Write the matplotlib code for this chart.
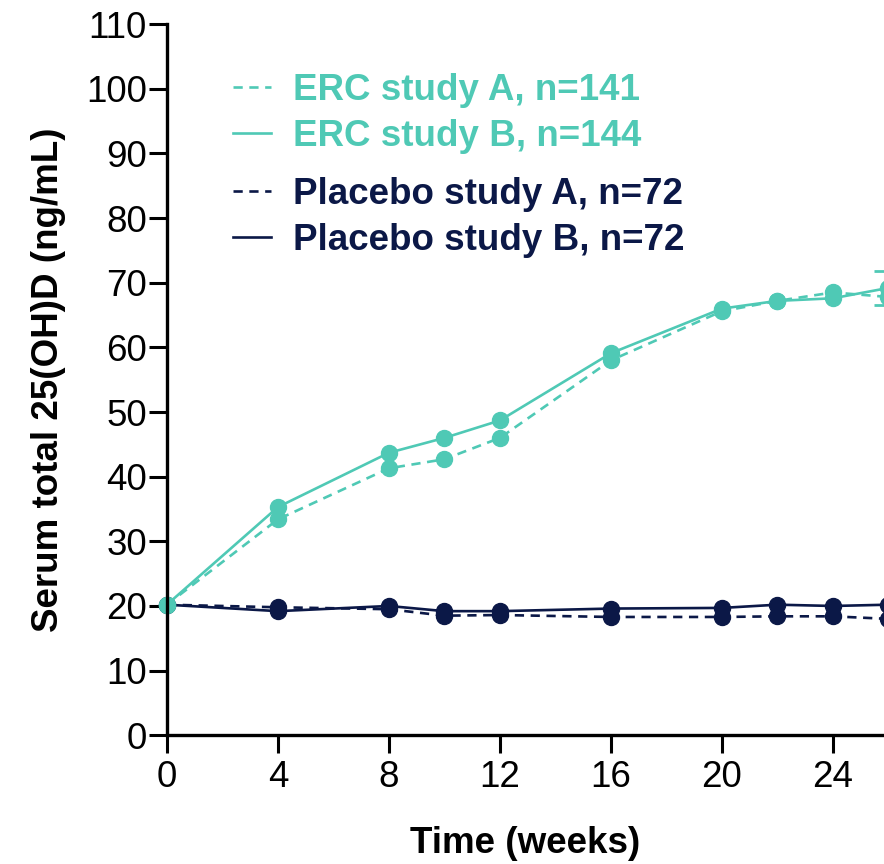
import matplotlib.pyplot as plt
from matplotlib.lines import Line2D

plt.rcParams['font.family'] = ['Liberation Sans', 'DejaVu Sans']

TEAL = '#4fc9b5'
NAVY = '#0b1847'

weeks = [0, 4, 8, 10, 12, 16, 20, 22, 24, 26]
erc_a = [20.2, 33.4, 41.3, 42.7, 46.0, 58.0, 65.6, 67.2, 68.5, 67.8]
erc_b = [20.2, 35.3, 43.7, 46.0, 48.7, 59.1, 66.0, 67.2, 67.6, 69.2]
plac_a = [20.2, 19.8, 19.5, 18.5, 18.6, 18.3, 18.3, 18.4, 18.4, 18.0]
plac_b = [20.2, 19.2, 20.0, 19.2, 19.2, 19.6, 19.7, 20.2, 20.0, 20.2]

labels = ['ERC study A, n=141', 'ERC study B, n=144',
          'Placebo study A, n=72', 'Placebo study B, n=72']

FS = 26.5
DASH = (0, (3.5, 2.5))
LW = 1.9
MS = 11.5

fig = plt.figure(figsize=(8.84, 8.64), dpi=100)
ax = fig.add_axes([0.1888, 0.149, 0.8112, 0.823])

ax.plot(weeks, plac_a, color=NAVY, linestyle=DASH, linewidth=LW,
        marker='o', markersize=MS, clip_on=False)
ax.plot(weeks, plac_b, color=NAVY, linestyle='-', linewidth=LW,
        marker='o', markersize=MS, clip_on=False)
ax.plot(weeks, erc_a, color=TEAL, linestyle=DASH, linewidth=LW,
        marker='o', markersize=MS, clip_on=False)
ax.plot(weeks, erc_b, color=TEAL, linestyle='-', linewidth=LW,
        marker='o', markersize=MS, clip_on=False)
# error bar visible at the last visit (mostly outside the crop)
eb = ax.errorbar([26], [69.2], yerr=[[2.6], [2.6]], color=TEAL, capsize=10,
                 linewidth=LW, capthick=2, fmt='none')
for a in eb.get_children():
    a.set_clip_on(False)

ax.set_xlim(0, 25.84)
ax.set_ylim(0, 110)
ax.set_xticks(range(0, 25, 4))
ax.set_yticks(range(0, 111, 10))
ax.tick_params(labelsize=FS, length=13, width=2.2)
ax.tick_params(axis='y', pad=1.5)
ax.tick_params(axis='x', pad=5)
for s in ['top', 'right']:
    ax.spines[s].set_visible(False)
for s in ['left', 'bottom']:
    ax.spines[s].set_linewidth(2.4)

ax.set_xlabel('Time (weeks)', fontsize=FS, fontweight='bold', labelpad=22)
ax.set_ylabel('Serum total 25(OH)D (ng/mL)', fontsize=FS, fontweight='bold',
              labelpad=14)

h1 = [Line2D([], [], color=TEAL, linestyle=DASH, linewidth=LW),
      Line2D([], [], color=TEAL, linestyle='-', linewidth=LW)]
h2 = [Line2D([], [], color=NAVY, linestyle=DASH, linewidth=LW),
      Line2D([], [], color=NAVY, linestyle='-', linewidth=LW)]
legkw = dict(loc='upper left', frameon=False,
             prop={'size': FS, 'weight': 'bold'},
             handlelength=1.03, handletextpad=0.6,
             labelspacing=0.3, borderaxespad=0)
leg1 = ax.legend(h1, labels[:2], bbox_to_anchor=(0.072, 0.952),
                 labelcolor=TEAL, **legkw)
ax.add_artist(leg1)
ax.legend(h2, labels[2:], bbox_to_anchor=(0.072, 0.806),
          labelcolor=NAVY, **legkw)

fig.savefig('out.png', dpi=100)
